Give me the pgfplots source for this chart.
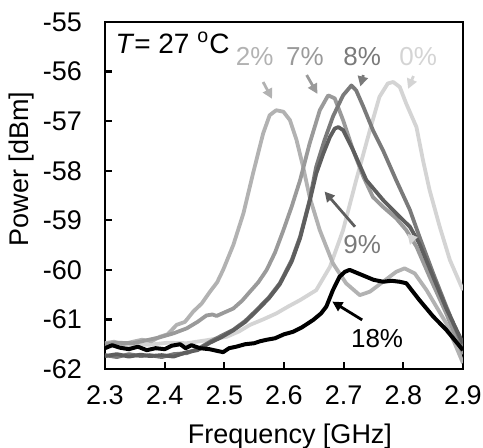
\documentclass[border=0pt]{standalone}
\usepackage{pgfplots}
\pgfplotsset{compat=1.18}
\usepackage{fontspec}
\setmainfont{Liberation Sans}
\usetikzlibrary{arrows.meta}
\definecolor{czero}{HTML}{D4D4D4}
\definecolor{ctwo}{HTML}{B2B2B2}
\definecolor{cseven}{HTML}{9A9A9A}
\definecolor{ceight}{HTML}{7A7A7A}
\definecolor{cnine}{HTML}{5E5E5E}
\tikzset{
  lbl/.style={font=\fontsize{13bp}{15bp}\selectfont,anchor=base,inner sep=0pt},
  arr/.style={-{Triangle[length=5bp,width=5bp]},line width=1.4bp},
}
\begin{document}
\begin{tikzpicture}[x=1bp,y=1bp]
\path[use as bounding box] (0,0) rectangle (241.5,224);
\begin{axis}[
  at={(52.5bp,39.5bp)}, anchor=south west,
  scale only axis, width=179bp, height=173.5bp,
  xmin=2.3, xmax=2.9, ymin=-62, ymax=-55,
  xtick={2.3,2.4,2.5,2.6,2.7,2.8,2.9},
  xticklabels={2.3,2.4,2.5,2.6,2.7,2.8,2.9},
  ytick={-62,-61,-60,-59,-58,-57,-56,-55},
  yticklabels={-62,-61,-60,-59,-58,-57,-56,-55},
  tick pos=left, tick align=inside, major tick length=3.5bp,
  tick style={line width=1.1bp,black},
  axis line style={line width=1.3bp},
  ticklabel style={font=\fontsize{13.5bp}{16bp}\selectfont},
  yticklabel style={xshift=-8bp},
  xticklabel style={yshift=-5bp},
  every axis plot/.append style={line width=1.9bp,line join=round},
]
% 0%
\addplot[czero] coordinates {
(2.300,-61.55)(2.330,-61.52)(2.375,-61.51)(2.405,-61.47)(2.437,-61.48)(2.470,-61.42)
(2.504,-61.35)(2.525,-61.24)(2.543,-61.11)(2.565,-61.00)(2.587,-60.88)(2.607,-60.74)
(2.627,-60.61)(2.654,-60.41)(2.677,-59.94)(2.699,-59.20)(2.721,-58.19)(2.744,-57.18)
(2.760,-56.51)(2.774,-56.24)(2.783,-56.21)(2.794,-56.31)(2.805,-56.65)(2.822,-57.12)
(2.833,-57.79)(2.844,-58.39)(2.861,-59.13)(2.878,-59.80)(2.900,-60.41)};
% 2%
\addplot[ctwo] coordinates {
(2.300,-61.48)(2.315,-61.45)(2.330,-61.50)(2.347,-61.45)(2.362,-61.41)(2.378,-61.44)
(2.392,-61.35)(2.405,-61.30)(2.420,-61.11)(2.434,-61.05)(2.448,-60.84)(2.462,-60.68)
(2.476,-60.44)(2.488,-60.25)(2.498,-60.00)(2.515,-59.50)(2.532,-58.86)(2.548,-58.06)
(2.565,-57.25)(2.576,-56.88)(2.587,-56.78)(2.599,-56.81)(2.610,-56.98)(2.621,-57.38)
(2.632,-57.92)(2.643,-58.53)(2.660,-59.20)(2.682,-59.87)(2.704,-60.27)(2.727,-60.51)
(2.744,-60.44)(2.766,-60.24)(2.788,-60.04)(2.802,-59.97)(2.819,-60.07)(2.839,-60.41)
(2.872,-61.08)(2.900,-61.88)};
% 7%
\addplot[cseven] coordinates {
(2.300,-61.50)(2.320,-61.47)(2.347,-61.48)(2.370,-61.42)(2.392,-61.36)(2.415,-61.28)
(2.437,-61.18)(2.455,-61.05)(2.470,-60.92)(2.480,-60.90)(2.487,-60.93)(2.500,-60.86)
(2.515,-60.78)(2.530,-60.62)(2.543,-60.44)(2.557,-60.25)(2.571,-60.00)(2.585,-59.65)
(2.599,-59.20)(2.613,-58.72)(2.627,-58.19)(2.643,-57.45)(2.660,-56.78)(2.674,-56.48)
(2.685,-56.54)(2.699,-56.98)(2.716,-57.59)(2.733,-58.12)(2.749,-58.53)(2.766,-58.73)
(2.788,-58.96)(2.805,-59.20)(2.822,-59.53)(2.844,-60.14)(2.872,-60.88)(2.900,-61.70)};
% 8%
\addplot[ceight] coordinates {
(2.300,-61.72)(2.320,-61.76)(2.340,-61.70)(2.360,-61.74)(2.375,-61.72)(2.395,-61.76)
(2.415,-61.70)(2.437,-61.68)(2.455,-61.60)(2.476,-61.45)(2.495,-61.33)(2.515,-61.21)
(2.535,-61.03)(2.554,-60.81)(2.575,-60.55)(2.593,-60.27)(2.613,-59.80)(2.627,-59.33)
(2.643,-58.59)(2.654,-57.92)(2.668,-57.38)(2.682,-56.91)(2.699,-56.48)(2.713,-56.28)
(2.721,-56.38)(2.733,-56.71)(2.749,-57.18)(2.766,-57.59)(2.788,-58.19)(2.811,-58.79)
(2.827,-59.33)(2.850,-60.07)(2.872,-60.74)(2.900,-61.55)};
% 9%
\addplot[cnine] coordinates {
(2.300,-61.74)(2.320,-61.70)(2.340,-61.75)(2.360,-61.71)(2.375,-61.74)(2.395,-61.72)
(2.415,-61.75)(2.437,-61.66)(2.455,-61.62)(2.476,-61.47)(2.495,-61.36)(2.515,-61.22)
(2.535,-61.05)(2.554,-60.83)(2.575,-60.57)(2.593,-60.29)(2.613,-59.83)(2.627,-59.36)
(2.643,-58.62)(2.654,-58.06)(2.666,-57.65)(2.677,-57.32)(2.685,-57.15)(2.691,-57.12)
(2.699,-57.18)(2.716,-57.59)(2.738,-58.19)(2.766,-58.59)(2.788,-58.86)(2.811,-59.13)
(2.827,-59.47)(2.850,-60.14)(2.872,-60.78)(2.900,-61.48)};
% 18%
\addplot[black,line width=2bp] coordinates {
(2.300,-61.58)(2.312,-61.52)(2.325,-61.57)(2.340,-61.60)(2.355,-61.55)(2.370,-61.62)
(2.385,-61.58)(2.400,-61.60)(2.412,-61.53)(2.426,-61.50)(2.435,-61.58)(2.445,-61.52)
(2.459,-61.58)(2.475,-61.60)(2.490,-61.64)(2.498,-61.66)(2.508,-61.58)(2.520,-61.55)
(2.535,-61.50)(2.550,-61.48)(2.560,-61.44)(2.571,-61.41)(2.585,-61.38)(2.600,-61.30)
(2.615,-61.25)(2.630,-61.16)(2.649,-61.01)(2.662,-60.88)(2.671,-60.74)(2.682,-60.41)
(2.693,-60.14)(2.702,-60.04)(2.710,-60.00)(2.720,-60.05)(2.738,-60.14)(2.750,-60.20)
(2.766,-60.24)(2.780,-60.22)(2.794,-60.24)(2.805,-60.27)(2.827,-60.61)(2.850,-60.94)
(2.872,-61.21)(2.900,-61.62)};

\node[anchor=base west,inner sep=0pt,font=\fontsize{14bp}{16bp}\selectfont]
  at (axis cs:2.317,-55.63) {\textit{T}= 27 \textsuperscript{o}C};
\node[lbl,ctwo]   at (axis cs:2.551,-55.87) {2\%};
\node[lbl,cseven] at (axis cs:2.635,-55.87) {7\%};
\node[lbl,ceight] at (axis cs:2.731,-55.87) {8\%};
\node[lbl,czero]  at (axis cs:2.825,-55.87) {0\%};
\node[lbl,ceight] at (axis cs:2.731,-59.66) {9\%};
\node[lbl,black]  at (axis cs:2.756,-61.57) {18\%};
\draw[arr,ctwo]   (axis cs:2.565,-56.21) -- (axis cs:2.580,-56.55);
\draw[arr,cseven] (axis cs:2.638,-56.07) -- (axis cs:2.656,-56.45);
\draw[arr,ceight] (axis cs:2.733,-56.07) -- (axis cs:2.728,-56.30);
\draw[arr,czero]  (axis cs:2.817,-56.09) -- (axis cs:2.808,-56.35);
\draw[arr,cnine]  (axis cs:2.719,-59.13) -- (axis cs:2.668,-58.42);
\draw[arr,black]  (axis cs:2.731,-61.01) -- (axis cs:2.681,-60.64);
\draw[arr,czero]  (axis cs:2.816,-59.30) -- (axis cs:2.811,-59.50);
\end{axis}
\node[rotate=90,font=\fontsize{13.5bp}{16bp}\selectfont] at (11,139.5) {Power [dBm]};
\node[anchor=base,inner sep=0pt,font=\fontsize{13.5bp}{16bp}\selectfont] at (145,2.5) {Frequency [GHz]};
\end{tikzpicture}
\end{document}
